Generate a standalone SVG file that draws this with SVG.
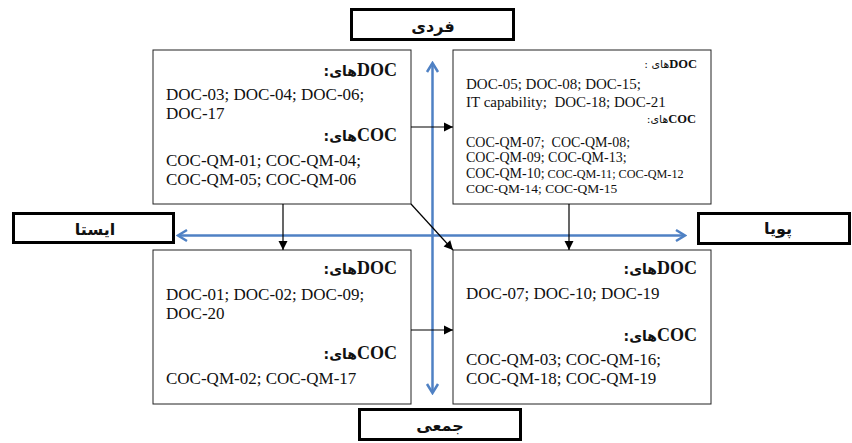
<svg xmlns="http://www.w3.org/2000/svg" width="852" height="443" viewBox="0 0 852 443">
<style>
  text { font-family: "Liberation Serif", "DejaVu Sans", serif; fill: #111; }
  .t17 { font-size: 17px; }
  .hd { font-size: 18px; }
  .b { font-weight: bold; }
  .fa { font-family: "DejaVu Sans", sans-serif; font-weight: bold; font-size: 14px; }
  .fas { font-family: "DejaVu Sans", sans-serif; font-size: 11px; }
  .lbl { font-family: "DejaVu Sans", sans-serif; font-weight: bold; font-size: 16px; text-anchor: middle; }
  .box { fill: #fff; stroke: #222; stroke-width: 1; }
  .lbox { fill: #fff; stroke: #000; stroke-width: 3; }
  .axis { stroke: #4f81c4; stroke-width: 2.5; fill: none; }
  .conn { stroke: #000; stroke-width: 1.2; fill: none; }
</style>
<defs>
  <marker id="openArrow" viewBox="-12 -8 14 16" refX="0" refY="0" markerUnits="userSpaceOnUse" markerWidth="14" markerHeight="16" orient="auto-start-reverse">
    <path d="M-9,-5.5 L0,0 L-9,5.5" fill="none" stroke="#4f81c4" stroke-width="2.5"/>
  </marker>
  <marker id="solidArrow" viewBox="-10 -6 11 12" refX="0" refY="0" markerUnits="userSpaceOnUse" markerWidth="11" markerHeight="12" orient="auto">
    <path d="M-9,-4.5 L0,0 L-9,4.5 z" fill="#000"/>
  </marker>
</defs>

<g id="box-top-left">
  <rect class="box" x="153" y="50" width="258" height="154"/>
  <text x="397" y="76" text-anchor="end"><tspan class="fa">:</tspan><tspan class="fa">های</tspan><tspan class="hd b">DOC</tspan></text>
  <text class="t17" x="166" y="100">DOC-03; DOC-04; DOC-06;</text>
  <text class="t17" x="166" y="119">DOC-17</text>
  <text x="397" y="141" text-anchor="end"><tspan class="fa">:</tspan><tspan class="fa">های</tspan><tspan class="hd b">COC</tspan></text>
  <text class="t17" x="166" y="166">COC-QM-01; COC-QM-04;</text>
  <text class="t17" x="166" y="185">COC-QM-05; COC-QM-06</text>
</g>

<g id="box-top-right">
  <rect class="box" x="453" y="50" width="258" height="154"/>
  <text x="697" y="68" text-anchor="end" xml:space="preserve"><tspan class="fas">: </tspan><tspan class="fas">های</tspan><tspan class="b" font-size="12.5">DOC</tspan></text>
  <text x="466" y="89" font-size="15">DOC-05; DOC-08; DOC-15;</text>
  <text x="466" y="107" font-size="15" xml:space="preserve">IT capability;  DOC-18; DOC-21</text>
  <text x="696" y="123" text-anchor="end"><tspan class="fas">:</tspan><tspan class="fas">های</tspan><tspan class="b" font-size="12.5">COC</tspan></text>
  <text x="466" y="147" font-size="14" xml:space="preserve">COC-QM-07;  COC-QM-08;</text>
  <text x="466" y="162" font-size="14">COC-QM-09; COC-QM-13;</text>
  <text x="466" y="178" font-size="14" xml:space="preserve">COC-QM-10;<tspan font-size="12.2"> COC-QM-11; COC-QM-12</tspan></text>
  <text x="466" y="193" font-size="13.5">COC-QM-14; COC-QM-15</text>
</g>

<g id="box-bottom-left">
  <rect class="box" x="153" y="250" width="258" height="154"/>
  <text x="397" y="274" text-anchor="end"><tspan class="fa">:</tspan><tspan class="fa">های</tspan><tspan class="hd b">DOC</tspan></text>
  <text class="t17" x="166" y="300">DOC-01; DOC-02; DOC-09;</text>
  <text class="t17" x="166" y="319">DOC-20</text>
  <text x="397" y="359" text-anchor="end"><tspan class="fa">:</tspan><tspan class="fa">های</tspan><tspan class="hd b">COC</tspan></text>
  <text class="t17" x="166" y="384">COC-QM-02; COC-QM-17</text>
</g>

<g id="box-bottom-right">
  <rect class="box" x="453" y="250" width="258" height="154"/>
  <text x="697" y="274" text-anchor="end"><tspan class="fa">:</tspan><tspan class="fa">های</tspan><tspan class="hd b">DOC</tspan></text>
  <text class="t17" x="466" y="299">DOC-07; DOC-10; DOC-19</text>
  <text x="697" y="341" text-anchor="end"><tspan class="fa">:</tspan><tspan class="fa">های</tspan><tspan class="hd b">COC</tspan></text>
  <text class="t17" x="466" y="365">COC-QM-03; COC-QM-16;</text>
  <text class="t17" x="466" y="384">COC-QM-18; COC-QM-19</text>
</g>

<g id="label-top">
  <rect class="lbox" x="351.5" y="9.5" width="162" height="30"/>
  <text class="lbl" x="433" y="32">فردی</text>
</g>
<g id="label-left">
  <rect class="lbox" x="13.5" y="213.5" width="160" height="29"/>
  <text class="lbl" x="95" y="235">ایستا</text>
</g>
<g id="label-right">
  <rect class="lbox" x="698.5" y="213.5" width="151" height="30"/>
  <text class="lbl" x="778" y="234">پویا</text>
</g>
<g id="label-bottom">
  <rect class="lbox" x="359.5" y="409.5" width="161" height="30"/>
  <text class="lbl" x="440" y="431">جمعی</text>
</g>

<g id="axes">
  <line class="axis" x1="432.5" y1="393" x2="432.5" y2="63" marker-start="url(#openArrow)" marker-end="url(#openArrow)"/>
  <line class="axis" x1="178" y1="235.5" x2="685" y2="235.5" marker-start="url(#openArrow)" marker-end="url(#openArrow)"/>
</g>

<g id="connectors">
  <line class="conn" x1="411" y1="127" x2="453" y2="127" marker-end="url(#solidArrow)"/>
  <line class="conn" x1="283" y1="204" x2="283" y2="250" marker-end="url(#solidArrow)"/>
  <line class="conn" x1="411" y1="204" x2="453" y2="250" marker-end="url(#solidArrow)"/>
  <line class="conn" x1="569" y1="204" x2="569" y2="250" marker-end="url(#solidArrow)"/>
  <line class="conn" x1="411" y1="330" x2="453" y2="330" marker-end="url(#solidArrow)"/>
</g>
</svg>
